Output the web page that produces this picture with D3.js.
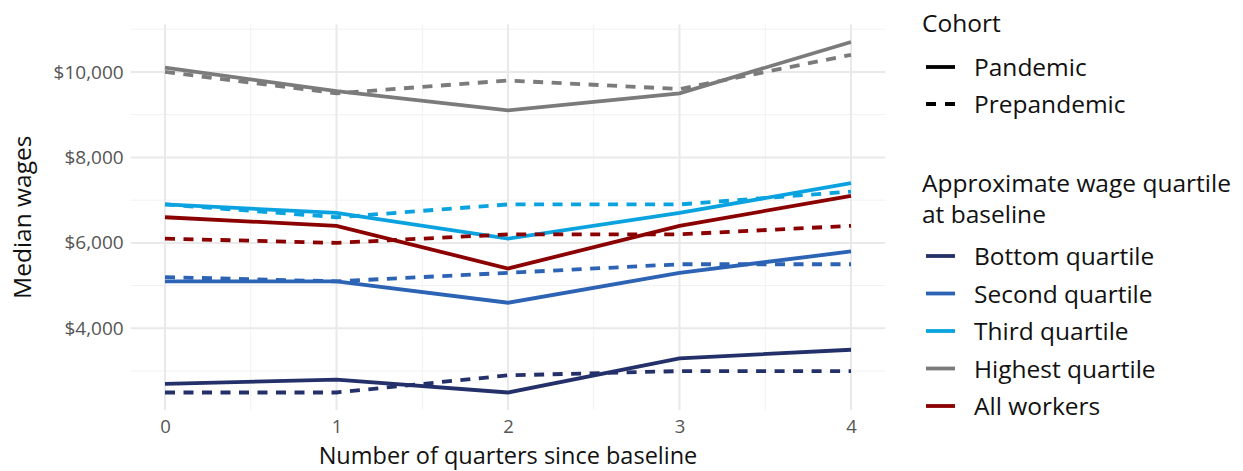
<!DOCTYPE html>
<html><head><meta charset="utf-8">
<script src="https://cdn.jsdelivr.net/npm/d3@7"></script>
<style>body{margin:0;background:#fff}svg{display:block;font-family:"Open Sans","Noto Sans",sans-serif}</style>
</head><body>
<svg id="c" width="1243" height="471"></svg>
<script>
const quarters = [0, 1, 2, 3, 4];
const groups = ["Bottom quartile", "Second quartile", "Third quartile", "Highest quartile", "All workers"];
const groupColors = ["#24306a", "#2c63b4", "#0ba3df", "#7b7b7b", "#8b0000"];
const cohorts = ["Pandemic", "Prepandemic"];
const pandemic = {
  "Bottom quartile": [2700, 2800, 2500, 3300, 3500],
  "Second quartile": [5100, 5100, 4600, 5300, 5800],
  "Third quartile": [6900, 6700, 6100, 6700, 7400],
  "Highest quartile": [10100, 9550, 9100, 9500, 10700],
  "All workers": [6600, 6400, 5400, 6400, 7100]
};
const prepandemic = {
  "Bottom quartile": [2500, 2500, 2900, 3000, 3000],
  "Second quartile": [5200, 5100, 5300, 5500, 5500],
  "Third quartile": [6900, 6600, 6900, 6900, 7200],
  "Highest quartile": [10000, 9500, 9800, 9600, 10400],
  "All workers": [6100, 6000, 6200, 6200, 6400]
};
const yTicks = [4000, 6000, 8000, 10000];
const yMinor = [3000, 5000, 7000, 9000, 11000];
const xMinor = [0.5, 1.5, 2.5, 3.5];

const svg = d3.select("#c");
const L = 130.7, R = 885.3, T = 24.5, B = 410;
const all = [...Object.values(pandemic).flat(), ...Object.values(prepandemic).flat()];
const [ymin, ymax] = d3.extent(all);
const ypad = (ymax - ymin) * 0.05;
const x = d3.scaleLinear().domain([-0.2, 4.2]).range([L, R]);
const y = d3.scaleLinear().domain([ymin - ypad, ymax + ypad]).range([B, T]);
const color = d3.scaleOrdinal().domain(groups).range(groupColors);
const DASH = "10,8.5", LW = 3.8, FS = 24.5, TFS = 19;

const grid = svg.append("g");
yMinor.filter(v => y(v) >= T && y(v) <= B).forEach(v => grid.append("line").attr("x1", L).attr("x2", R).attr("y1", y(v)).attr("y2", y(v)).attr("stroke", "#f1f1f1").attr("stroke-width", 1));
xMinor.forEach(v => grid.append("line").attr("x1", x(v)).attr("x2", x(v)).attr("y1", T).attr("y2", B).attr("stroke", "#f1f1f1").attr("stroke-width", 1));
yTicks.forEach(v => grid.append("line").attr("x1", L).attr("x2", R).attr("y1", y(v)).attr("y2", y(v)).attr("stroke", "#e9e9e9").attr("stroke-width", 2));
quarters.forEach(v => grid.append("line").attr("x1", x(v)).attr("x2", x(v)).attr("y1", T).attr("y2", B).attr("stroke", "#e9e9e9").attr("stroke-width", 2));

// axes
const yAxis = d3.axisLeft(y).tickValues(yTicks).tickSize(0).tickPadding(7).tickFormat(d => "$" + d3.format(",")(d));
const ya = svg.append("g").attr("transform", `translate(${L},0)`).call(yAxis);
ya.select(".domain").remove();
ya.selectAll("text").attr("font-size", TFS).attr("fill", "#555").attr("font-family", "Open Sans");
const xAxis = d3.axisBottom(x).tickValues(quarters).tickSize(0).tickPadding(0).tickFormat(d3.format("d"));
const xa = svg.append("g").attr("transform", `translate(0,${B})`).call(xAxis);
xa.select(".domain").remove();
xa.selectAll("text").attr("dy", null).attr("y", 23).attr("font-size", 18.5).attr("fill", "#555").attr("font-family", "Open Sans");

svg.append("text").attr("x", (L + R) / 2).attr("y", 464).attr("text-anchor", "middle").attr("font-size", 23.5).attr("fill", "#111").text("Number of quarters since baseline");
svg.append("text").attr("transform", `translate(31,${(T + B) / 2}) rotate(-90)`).attr("text-anchor", "middle").attr("font-size", FS).attr("fill", "#111").text("Median wages");

const line = d3.line().x((d, i) => x(quarters[i])).y(d => y(d));
const plot = svg.append("g");
groups.forEach(g => {
  plot.append("path").attr("d", line(prepandemic[g])).attr("fill", "none").attr("stroke", color(g)).attr("stroke-width", LW).attr("stroke-dasharray", DASH);
  plot.append("path").attr("d", line(pandemic[g])).attr("fill", "none").attr("stroke", color(g)).attr("stroke-width", LW);
});

// legends
const lg = svg.append("g");
const lx = 926, tx = 974;
lg.append("text").attr("x", 922).attr("y", 32).attr("font-size", FS).attr("fill", "#111").text("Cohort");
cohorts.forEach((c, i) => {
  const cy = 67 + i * 37;
  lg.append("line").attr("x1", lx).attr("x2", lx + 29).attr("y1", cy).attr("y2", cy).attr("stroke", "#000").attr("stroke-width", LW).attr("stroke-dasharray", i ? "10,9" : null);
  lg.append("text").attr("x", tx).attr("y", cy + 9).attr("font-size", FS).attr("fill", "#111").text(c);
});
lg.append("text").attr("x", 922).attr("y", 192).attr("font-size", FS).attr("fill", "#111").text("Approximate wage quartile");
lg.append("text").attr("x", 922).attr("y", 223).attr("font-size", FS).attr("fill", "#111").text("at baseline");
groups.forEach((g, i) => {
  const cy = 256 + i * 37.5;
  lg.append("line").attr("x1", lx).attr("x2", lx + 29).attr("y1", cy).attr("y2", cy).attr("stroke", color(g)).attr("stroke-width", LW);
  lg.append("text").attr("x", tx).attr("y", cy + 9).attr("font-size", FS).attr("fill", "#111").text(g);
});
</script>
</body></html>
